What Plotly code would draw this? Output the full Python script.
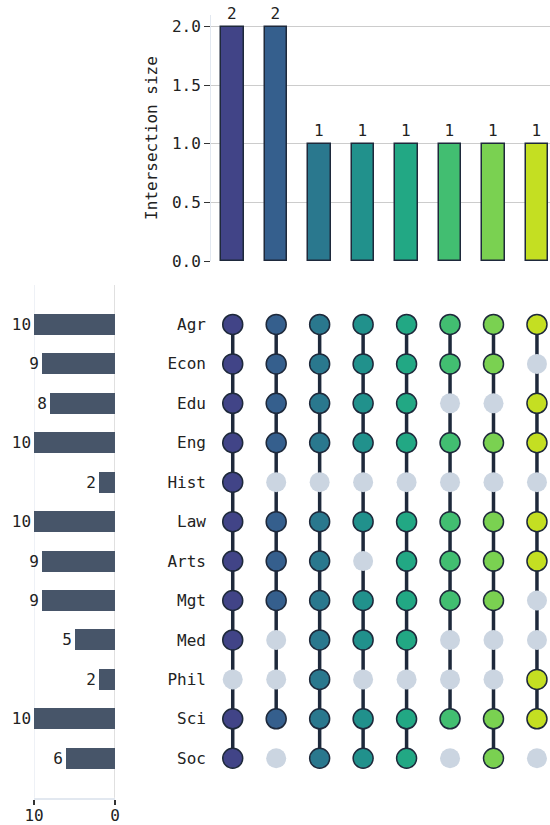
import plotly.graph_objects as go

# Sets (rows of the matrix, top to bottom) and their sizes
set_names = ["Agr", "Econ", "Edu", "Eng", "Hist", "Law", "Arts", "Mgt", "Med", "Phil", "Sci", "Soc"]
set_sizes = [10, 9, 8, 10, 2, 10, 9, 9, 5, 2, 10, 6]

# Intersections (columns) and their sizes
intersection_sizes = [2, 2, 1, 1, 1, 1, 1, 1]

# Membership of each set in each intersection (one list per column, in set order)
col_1 = [1, 1, 1, 1, 1, 1, 1, 1, 1, 0, 1, 1]
col_2 = [1, 1, 1, 1, 0, 1, 1, 1, 0, 0, 1, 0]
col_3 = [1, 1, 1, 1, 0, 1, 1, 1, 1, 1, 1, 1]
col_4 = [1, 1, 1, 1, 0, 1, 0, 1, 1, 0, 1, 1]
col_5 = [1, 1, 1, 1, 0, 1, 1, 1, 1, 0, 1, 1]
col_6 = [1, 1, 0, 1, 0, 1, 1, 1, 0, 0, 1, 0]
col_7 = [1, 1, 0, 1, 0, 1, 1, 1, 0, 0, 1, 1]
col_8 = [1, 0, 1, 1, 0, 1, 1, 0, 0, 1, 1, 0]
membership = [col_1, col_2, col_3, col_4, col_5, col_6, col_7, col_8]

# Set-size axis ticks
set_axis_ticks = [10, 0]

# Viridis samples, one per intersection
col_colors = ["#414487", "#355f8d", "#2a788e", "#21918c", "#22a884", "#42be71", "#7ad151", "#c4df22"]

FONT = "DejaVu Sans Mono"
DARK = "#1e293b"
INACTIVE = "#cbd5e1"
SET_BAR = "#475569"
GRID = "#cccccc"
AXIS_LINE = "#e2e8f0"
FS = 16

n_cols = len(intersection_sizes)
n_rows = len(set_names)
col_idx = list(range(n_cols))
row_idx = list(range(n_rows))

fig = go.Figure()

# Intersection size bars
fig.add_trace(go.Bar(
    x=col_idx, y=intersection_sizes,
    marker=dict(color=col_colors, line=dict(color=DARK, width=1.5)),
    width=0.52,
    text=[str(v) for v in intersection_sizes], textposition="outside",
    textfont=dict(family=FONT, size=FS, color="#222222"),
    cliponaxis=False,
    xaxis="x", yaxis="y", showlegend=False,
))

# Matrix: connecting line between first and last member in each column
for c, members in enumerate(membership):
    rows_in = [r for r, m in enumerate(members) if m]
    fig.add_trace(go.Scatter(
        x=[c, c], y=[min(rows_in), max(rows_in)], mode="lines",
        line=dict(color=DARK, width=3.5),
        xaxis="x2", yaxis="y2", showlegend=False, hoverinfo="skip",
    ))

# Matrix: split cells into inactive and active dots
ix, iy, ax, ay, acol = [], [], [], [], []
for c, members in enumerate(membership):
    for r, m in enumerate(members):
        if m:
            ax.append(c); ay.append(r); acol.append(col_colors[c])
        else:
            ix.append(c); iy.append(r)

fig.add_trace(go.Scatter(
    x=ix, y=iy, mode="markers",
    marker=dict(size=20, color=INACTIVE, line=dict(width=0)),
    xaxis="x2", yaxis="y2", showlegend=False,
))
fig.add_trace(go.Scatter(
    x=ax, y=ay, mode="markers",
    marker=dict(size=20, color=acol, line=dict(color=DARK, width=1.5)),
    xaxis="x2", yaxis="y2", showlegend=False,
))

# Set size bars
fig.add_trace(go.Bar(
    x=set_sizes, y=row_idx, orientation="h",
    marker=dict(color=SET_BAR, line=dict(width=0)),
    width=0.53,
    text=[str(v) for v in set_sizes], textposition="outside",
    textfont=dict(family=FONT, size=FS, color="#222222"),
    cliponaxis=False, constraintext="none",
    xaxis="x3", yaxis="y3", showlegend=False,
))

# Vertical guide lines of the set-size panel (at its tick values)
for t, colr in zip(set_axis_ticks, [AXIS_LINE, GRID]):
    fig.add_shape(type="line", xref="x3", yref="y3 domain",
                  x0=t, x1=t, y0=0, y1=1, line=dict(color=colr, width=1.2), layer="below")

W, H = 550, 825
main_dom = [211 / W, 1.0]
left_dom = [34 / W, 115 / W]
top_dom = [1 - 261 / H, 1 - 15 / H]
mat_dom = [1 - 797.7 / H, 1 - 285 / H]
mat_range = [12.0, -1.0]

fig.update_layout(
    width=W, height=H,
    margin=dict(l=0, r=0, t=0, b=0),
    plot_bgcolor="white", paper_bgcolor="white",
    font=dict(family=FONT, size=FS, color="#222222"),
    bargap=0,
    xaxis=dict(domain=main_dom, range=[-0.5, 7.3], showticklabels=False, ticks="",
               showgrid=False, zeroline=False, showline=False, anchor="y", automargin=False),
    yaxis=dict(domain=top_dom, range=[0, 2.1], anchor="x", automargin=False,
               tickvals=[0, 0.5, 1.0, 1.5, 2.0], ticktext=["0.0", "0.5", "1.0", "1.5", "2.0"],
               ticks="outside", ticklen=6, tickcolor="#333333", tickwidth=1,
               showgrid=True, gridcolor=GRID, gridwidth=1,
               zeroline=False, showline=True, linecolor=AXIS_LINE, linewidth=1,
               title=dict(text="Intersection size", font=dict(family=FONT, size=FS), standoff=10)),
    xaxis2=dict(domain=main_dom, range=[-0.5, 7.3], matches="x", anchor="y2", automargin=False,
                showticklabels=False, ticks="", showgrid=False, zeroline=False, showline=False),
    yaxis2=dict(domain=mat_dom, range=mat_range, anchor="x2", automargin=False,
                tickvals=row_idx, ticktext=set_names, ticks="", ticklabelstandoff=4,
                showgrid=False, zeroline=False, showline=False),
    xaxis3=dict(domain=left_dom, range=[10, 0], anchor="y3", automargin=False,
                tickvals=set_axis_ticks, ticks="outside", ticklen=5, tickwidth=2, tickcolor="#333333",
                ticklabelstandoff=-3,
                showgrid=False, zeroline=False,
                showline=True, linecolor=AXIS_LINE, linewidth=2),
    yaxis3=dict(domain=mat_dom, range=mat_range, anchor="x3", matches="y2", automargin=False,
                showticklabels=False, ticks="", showgrid=False, zeroline=False, showline=False),
)

fig.write_html("out.html", config={"displayModeBar": False},
               post_script="document.body.style.margin = '0';")
